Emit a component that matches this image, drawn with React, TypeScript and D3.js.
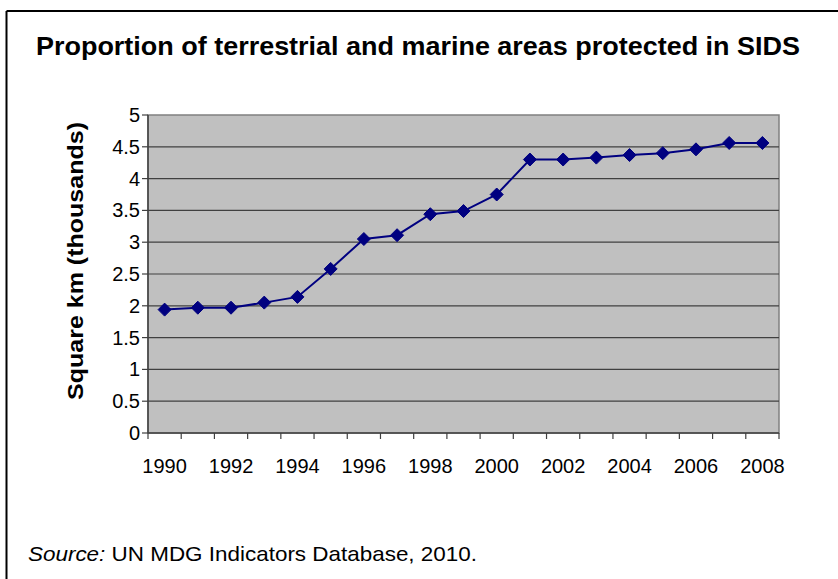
import React from "react";
import * as d3 from "d3";

const years = [1990,1991,1992,1993,1994,1995,1996,1997,1998,1999,2000,2001,2002,2003,2004,2005,2006,2007,2008];
const values = [1.94,1.97,1.97,2.05,2.14,2.58,3.05,3.11,3.44,3.49,3.75,4.3,4.3,4.33,4.37,4.4,4.46,4.56,4.56];
const yTicks = [0,0.5,1,1.5,2,2.5,3,3.5,4,4.5,5];
const xLabelYears = [1990,1992,1994,1996,1998,2000,2002,2004,2006,2008];

const title = "Proportion of terrestrial and marine areas protected in SIDS";
const yTitle = "Square km (thousands)";

export default function App() {
  const W = 838, H = 579;
  const left = 148, right = 779, top = 115, bottom = 433;
  const x = d3.scaleBand<number>().domain(years).range([left, right]);
  const y = d3.scaleLinear().domain([0, 5]).range([bottom, top]);
  const cx = (yr: number) => (x(yr) as number) + x.bandwidth() / 2;
  const line = d3.line<number>().x((_, i) => cx(years[i])).y((d) => y(d));
  const font = "Arial, 'Liberation Sans', sans-serif";
  const boundaries = years.map((yr) => x(yr) as number).concat([right]);
  const m = 6.5;
  return (
    <svg width={W} height={H} style={{ position: "absolute", left: 0, top: 0, background: "#fff" }} fontFamily={font}>
      <line x1={6.5} y1={11} x2={W} y2={11} stroke="#000" strokeWidth={2} />
      <line x1={6.5} y1={11} x2={6.5} y2={H} stroke="#000" strokeWidth={2} />
      <text x={418} y={55} textAnchor="middle" fontSize={26.5} fontWeight="bold" textLength={764} lengthAdjust="spacingAndGlyphs">{title}</text>
      <rect x={left} y={top} width={right - left} height={bottom - top} fill="#C0C0C0" stroke="#808080" strokeWidth={1.5} />
      {yTicks.map((t) => (
        <g key={t}>
          {t > 0 && t < 5 && <line x1={left} x2={right} y1={y(t)} y2={y(t)} stroke="#404040" strokeWidth={1.2} />}
          <line x1={left - 6} x2={left} y1={y(t)} y2={y(t)} stroke="#404040" strokeWidth={1.2} />
          <text x={140} y={y(t) + 7} textAnchor="end" fontSize={20}>{t}</text>
        </g>
      ))}
      <line x1={left} x2={left} y1={top} y2={bottom} stroke="#404040" strokeWidth={1.5} />
      <line x1={left} x2={right} y1={bottom} y2={bottom} stroke="#404040" strokeWidth={1.5} />
      {boundaries.map((b, i) => (
        <line key={i} x1={b} x2={b} y1={bottom} y2={bottom + 6} stroke="#404040" strokeWidth={1.2} />
      ))}
      {xLabelYears.map((yr) => (
        <text key={yr} x={cx(yr)} y={473} textAnchor="middle" fontSize={20}>{yr}</text>
      ))}
      <text transform={`translate(83,${261}) rotate(-90)`} textAnchor="middle" fontSize={21.5} fontWeight="bold" textLength={278} lengthAdjust="spacingAndGlyphs">{yTitle}</text>
      <path d={line(values) || ""} fill="none" stroke="#000080" strokeWidth={2} />
      {values.map((v, i) => (
        <path key={i} d={`M${cx(years[i])},${y(v) - m}L${cx(years[i]) + m},${y(v)}L${cx(years[i])},${y(v) + m}L${cx(years[i]) - m},${y(v)}Z`} fill="#000080" stroke="#000080" strokeWidth={1} />
      ))}
      <text x={28} y={561} fontSize={21} textLength={449} lengthAdjust="spacingAndGlyphs">
        <tspan fontStyle="italic">Source:</tspan> UN MDG Indicators Database, 2010.
      </text>
    </svg>
  );
}
